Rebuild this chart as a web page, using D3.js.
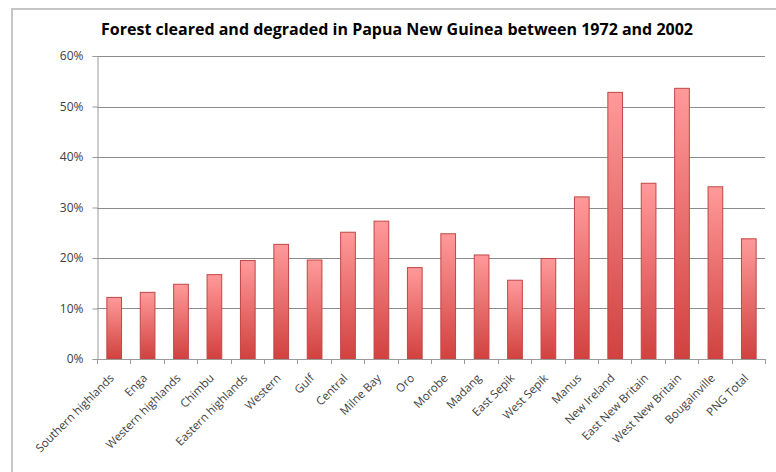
<!DOCTYPE html>
<html>
<head>
<meta charset="utf-8">
<script src="https://cdn.jsdelivr.net/npm/d3@7"></script>
<style>
  html, body { margin: 0; padding: 0; background: #fff; }
  svg { display: block; }
</style>
</head>
<body>
<svg id="chart" width="776" height="472"></svg>
<script>
const title = "Forest cleared and degraded in Papua New Guinea between 1972 and 2002";
const categories = ["Southern highlands", "Enga", "Western highlands", "Chimbu", "Eastern highlands",
  "Western", "Gulf", "Central", "Milne Bay", "Oro", "Morobe", "Madang", "East Sepik", "West Sepik",
  "Manus", "New Ireland", "East New Britain", "West New Britain", "Bougainville", "PNG Total"];
const values = [0.122, 0.132, 0.148, 0.167, 0.195, 0.227, 0.196, 0.251, 0.273, 0.181, 0.248, 0.206,
  0.156, 0.199, 0.321, 0.528, 0.348, 0.536, 0.341, 0.238];
const yTicks = [0, 0.1, 0.2, 0.3, 0.4, 0.5, 0.6];

const svg = d3.select("#chart");
const W = 776, H = 472;
const margin = { left: 97, right: 11, top: 56, bottom: 113 };
const x0 = margin.left, x1 = W - margin.right, y0 = H - margin.bottom, y1 = margin.top;

// frame
svg.append("path").attr("d", `M12,${H} L12,9 L${W},9`).attr("fill", "none")
  .attr("stroke", "#c6c6c6").attr("stroke-width", 2);

// gradient
const defs = svg.append("defs");
const grad = defs.append("linearGradient").attr("id", "barGrad")
  .attr("x1", 0).attr("y1", 0).attr("x2", 0).attr("y2", 1);
grad.append("stop").attr("offset", "0%").attr("stop-color", "#ff9a9a");
grad.append("stop").attr("offset", "100%").attr("stop-color", "#d1413f");

const x = d3.scaleBand().domain(categories).range([x0, x1]).paddingInner(0.56).paddingOuter(0.28);
const y = d3.scaleLinear().domain([0, 0.6]).range([y0, y1]);

// title
svg.append("text").attr("x", 397).attr("y", 35).attr("text-anchor", "middle")
  .attr("font-family", "'Open Sans', sans-serif").attr("font-weight", "bold")
  .attr("font-size", 16).attr("fill", "#000").text(title);

// gridlines
svg.append("g").selectAll("line").data(yTicks.filter(d => d > 0)).join("line")
  .attr("x1", x0).attr("x2", x1).attr("y1", d => Math.round(y(d)) + 0.5).attr("y2", d => Math.round(y(d)) + 0.5)
  .attr("stroke", "#8c8c8c").attr("stroke-width", 1);

// y axis
const yAxis = d3.axisLeft(y).tickValues(yTicks).tickFormat(d3.format(".0%")).tickSize(5).tickPadding(9);
const gy = svg.append("g").attr("transform", `translate(${x0 + 0.5},0)`).call(yAxis);
gy.select(".domain").attr("stroke", "#9a9a9a");
gy.selectAll(".tick line").attr("stroke", "#9a9a9a");
gy.selectAll("text").attr("font-family", "'Open Sans', sans-serif").attr("font-size", 12).attr("fill", "#404040");

// bars
svg.append("g").selectAll("rect").data(values).join("rect")
  .attr("x", (d, i) => x(categories[i]) + 0.5)
  .attr("y", d => y(d))
  .attr("width", x.bandwidth())
  .attr("height", d => y0 - y(d))
  .attr("fill", "url(#barGrad)")
  .attr("stroke", "#c24644").attr("stroke-width", 1);

// x axis with ticks at band boundaries
const boundaries = d3.range(categories.length + 1).map(i => x0 + i * (x1 - x0) / categories.length);
const gx = svg.append("g");
gx.append("line").attr("x1", x0).attr("x2", x1).attr("y1", y0 + 0.5).attr("y2", y0 + 0.5).attr("stroke", "#9a9a9a");
gx.selectAll(".tk").data(boundaries).join("line").attr("class", "tk")
  .attr("x1", d => Math.round(d) + 0.5).attr("x2", d => Math.round(d) + 0.5)
  .attr("y1", y0).attr("y2", y0 + 5).attr("stroke", "#9a9a9a");

gx.selectAll("text").data(categories).join("text")
  .attr("transform", d => `translate(${x(d) + x.bandwidth() / 2 - 2},${y0 + 17}) rotate(-45)`)
  .attr("text-anchor", "end").attr("dy", "0.35em")
  .attr("font-family", "'Open Sans', sans-serif").attr("font-size", 11.5).attr("fill", "#404040")
  .text(d => d);
</script>
</body>
</html>
